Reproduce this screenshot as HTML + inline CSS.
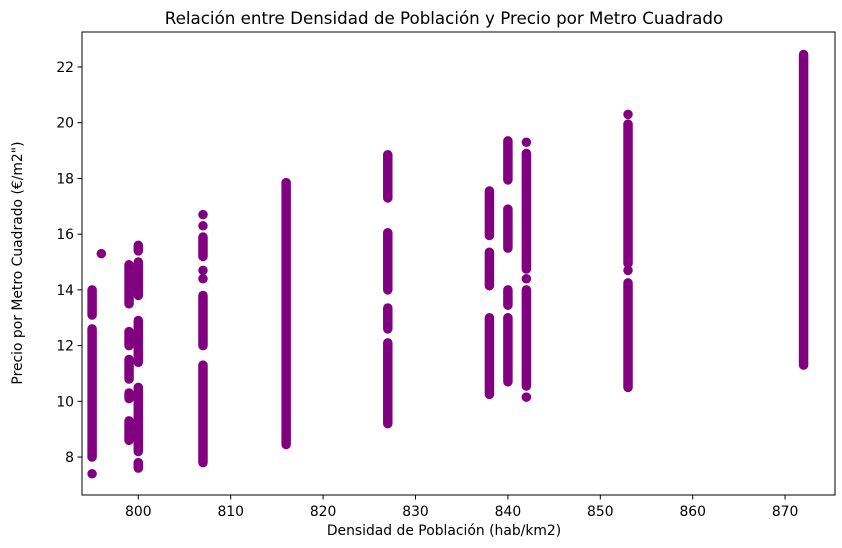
<!DOCTYPE html>
<html><head><meta charset="utf-8"><style>
html,body{margin:0;padding:0;background:#fff;}
svg{display:block;font-family:"DejaVu Sans","Liberation Sans",sans-serif;}
</style></head><body>
<svg id="chart" width="842" height="548" viewBox="0 0 842 548" xmlns="http://www.w3.org/2000/svg">
<text x="444" y="24" text-anchor="middle" font-size="16.7">Relación entre Densidad de Población y Precio por Metro Cuadrado</text>
<g id="marks"></g>
<rect x="82" y="32" width="753" height="463" fill="none" stroke="#000" stroke-width="1"/>
<g id="xticks"></g><g id="yticks"></g>
<text x="444" y="535" text-anchor="middle" font-size="13.9">Densidad de Población (hab/km2)</text>
<text transform="translate(22,263) rotate(-90)" text-anchor="middle" font-size="13.9">Precio por Metro Cuadrado (€/m2")</text>
</svg>
<script>
// Data: each cluster of points at a density value, given as runs [density, yHigh, yLow]
const densities = [795,795,795,796,799,799,799,799,799,800,800,800,800,800,807,807,807,807,807,807,807,816,827,827,827,827,838,838,838,840,840,840,840,842,842,842,842,842,853,853,853,853,872];
const runHigh = [14.0,12.6,7.4,15.3,14.9,12.5,11.5,10.3,9.3,15.6,15.0,12.9,10.5,7.8,16.7,16.3,15.9,14.7,14.4,13.8,11.3,17.85,18.85,16.05,13.35,12.1,17.55,15.35,13.0,19.35,16.9,14.0,13.0,19.3,18.9,14.4,14.0,10.15,20.3,19.95,14.7,14.25,22.45];
const runLow  = [13.1,8.0,7.4,15.3,13.5,12.0,10.8,10.1,8.6,15.4,13.8,11.4,8.2,7.6,16.7,16.3,15.2,14.7,14.4,12.0,7.8,8.45,17.3,14.0,12.6,9.2,15.95,14.15,10.25,17.95,15.5,13.45,10.7,19.3,14.75,14.4,10.55,10.15,20.3,14.95,14.7,10.5,11.3];
const xTickLabels = [800,810,820,830,840,850,860,870];
const yTickLabels = [8,10,12,14,16,18,20,22];

const NS = "http://www.w3.org/2000/svg";
function xScale(v){ return 138.3 + (v-800)*9.24; }
function yScale(v){ return 67 + (22-v)*27.86; }

const marks = document.getElementById('marks');
for (let i=0;i<densities.length;i++){
  const x = xScale(densities[i]);
  const l = document.createElementNS(NS,'line');
  
  
  l.setAttribute('x1', x); l.setAttribute('x2', x);
  l.setAttribute('y1', yScale(runHigh[i])); l.setAttribute('y2', yScale(runLow[i]));
  l.setAttribute('stroke', '#800080'); l.setAttribute('stroke-width', '9.5');
  l.setAttribute('stroke-linecap', 'round');
  marks.appendChild(l);
}
const xt = document.getElementById('xticks');
xTickLabels.forEach(v=>{
  const x = xScale(v);
  const t = document.createElementNS(NS,'line');
  
  
  t.setAttribute('x1',x);t.setAttribute('x2',x);t.setAttribute('y1',495);t.setAttribute('y2',499.5);t.setAttribute('stroke','#000');
  xt.appendChild(t);
  const s = document.createElementNS(NS,'text');
  
  
  s.setAttribute('x',x);s.setAttribute('y',516);s.setAttribute('text-anchor','middle');s.setAttribute('font-size','13.9');
  s.textContent=v; xt.appendChild(s);
});
const yt = document.getElementById('yticks');
yTickLabels.forEach(v=>{
  const y = yScale(v);
  const t = document.createElementNS(NS,'line');
  
  
  t.setAttribute('x1',77.5);t.setAttribute('x2',82);t.setAttribute('y1',y);t.setAttribute('y2',y);t.setAttribute('stroke','#000');
  yt.appendChild(t);
  const s = document.createElementNS(NS,'text');
  
  
  s.setAttribute('x',74);s.setAttribute('y',y+5);s.setAttribute('text-anchor','end');s.setAttribute('font-size','13.9');
  s.textContent=v; yt.appendChild(s);
});
</script>
</body></html>
